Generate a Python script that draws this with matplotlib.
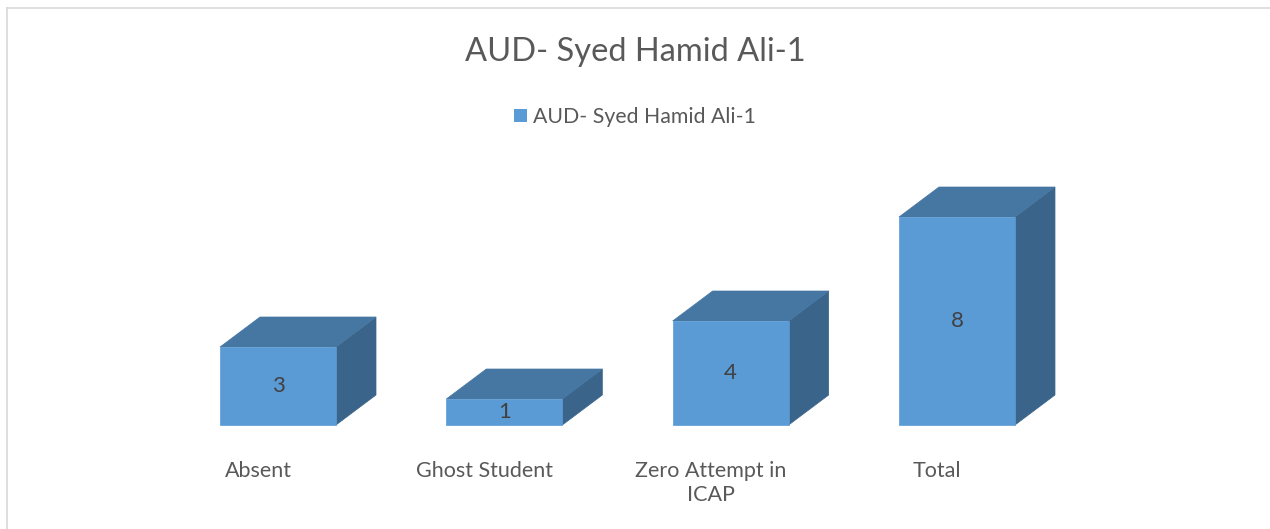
import matplotlib
matplotlib.use("Agg")
import matplotlib.pyplot as plt
from matplotlib.patches import Rectangle, Polygon, Patch
from matplotlib.lines import Line2D

plt.rcParams['font.family'] = ['Lato', 'DejaVu Sans']

# chart data
title = "AUD- Syed Hamid Ali-1"
series_name = "AUD- Syed Hamid Ali-1"
categories = ["Absent", "Ghost Student", "Zero Attempt in\nICAP", "Total"]
values = [3, 1, 4, 8]

# colours of the three visible faces
front_col = "#5B9BD5"
top_col = "#4677A3"
side_col = "#3A6489"
text_col = "#595959"

W, H = 1270, 529
fig = plt.figure(figsize=(W / 100, H / 100), dpi=100)

# one axes over the whole figure; scales chosen so that bars land where they should
ax = fig.add_axes([0, 0, 1, 1])
px_x = 226.33   # pixels per category
px_y = 26.0     # pixels per unit value
x0, y0 = 278, 425  # pixel of category 0 centre / zero line
ax.set_xlim((0 - x0) / px_x, (W - x0) / px_x)
ax.set_ylim(-(H - y0) / px_y, y0 / px_y)
ax.axis('off')

bw = 116 / px_x      # bar front width
dx = 40 / px_x       # depth offset x
dy = 30 / px_y       # depth offset y

for i, v in enumerate(values):
    l, r = i - bw / 2, i + bw / 2
    ax.add_patch(Polygon([(r, 0), (r + dx, dy), (r + dx, v + dy), (r, v)],
                         closed=True, facecolor=side_col, edgecolor=side_col, lw=0.5))
    ax.add_patch(Polygon([(l, v), (l + dx, v + dy), (r + dx, v + dy), (r, v)],
                         closed=True, facecolor=top_col, edgecolor=top_col, lw=0.5))
    ax.add_patch(Rectangle((l, 0), bw, v, facecolor=front_col, edgecolor=front_col, lw=0.5))
    ax.text(i, v / 2, str(v), ha='center', va='center', fontsize=16, color="#404040")
    ax.text(i - 20 / px_x, -(461 - y0) / px_y, categories[i], ha='center', va='top',
            fontsize=15.5, color=text_col, linespacing=1.25)

fig.text(0.5, 1 - 52 / H, title, ha='center', va='center', fontsize=23.5, color=text_col)

fig.legend(handles=[Patch(facecolor=front_col, label=series_name)], loc='center',
           bbox_to_anchor=(0.5, 1 - 117 / H), frameon=False, fontsize=15.3,
           handlelength=0.6, handleheight=0.6, handletextpad=0.3, labelcolor=text_col)

# chart border (left and top edges visible)
fig.add_artist(Line2D([7 / W, 7 / W], [0, 1 - 8 / H], transform=fig.transFigure,
                      color="#D9D9D9", lw=1.2))
fig.add_artist(Line2D([7 / W, 1], [1 - 8 / H, 1 - 8 / H], transform=fig.transFigure,
                      color="#D9D9D9", lw=1.2))

fig.savefig("out.png", dpi=100, facecolor="white")
